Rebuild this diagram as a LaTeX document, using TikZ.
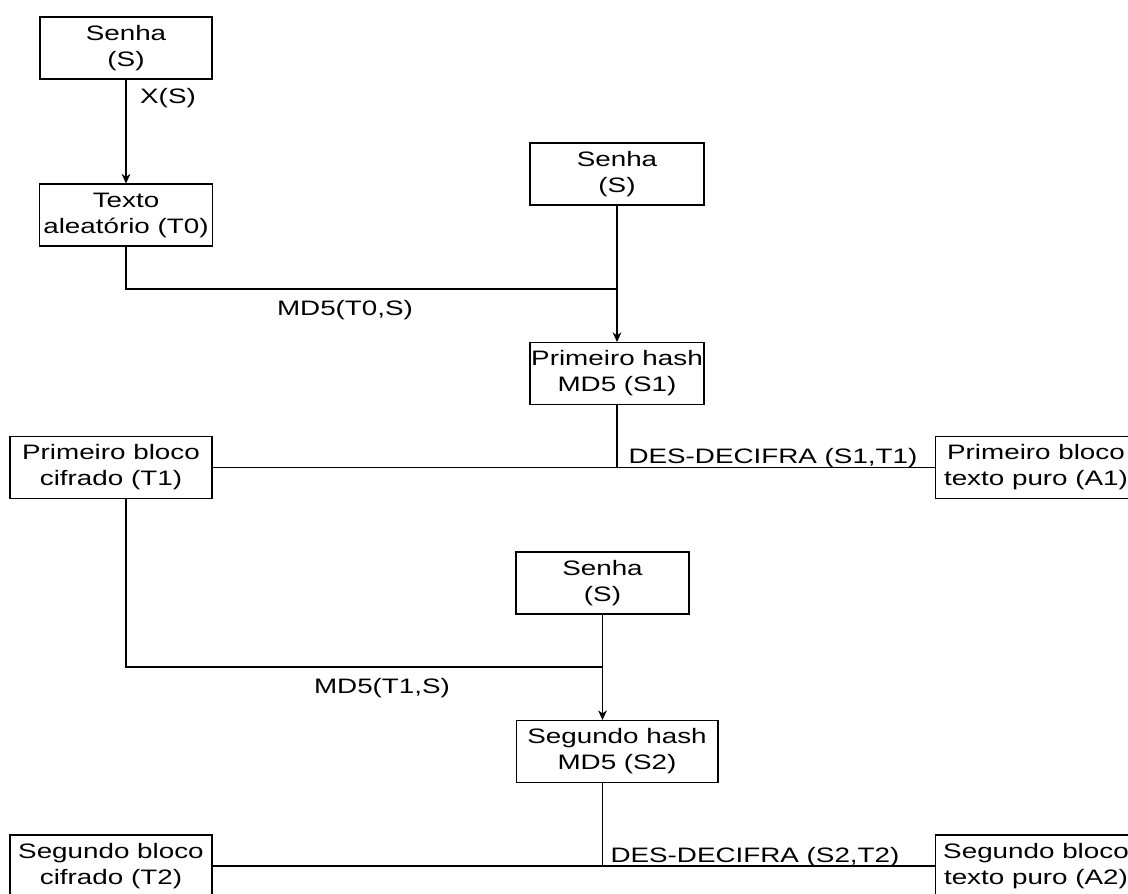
\documentclass[tikz,border=0pt]{standalone}
\usepackage{fontspec}
\setmainfont[FakeStretch=1.33]{Liberation Sans}
\usetikzlibrary{arrows.meta}
\begin{document}
\begin{tikzpicture}[
  x=0.02cm, y=-0.02cm,
  every node/.style={font=\fontsize{11.9}{14.8}\selectfont},
  caixa/.style={rectangle,draw,align=center,inner sep=0pt,minimum height=1.24cm},
  rotulo/.style={inner sep=0pt},
  line width=0.6pt, >={Stealth[length=5.5pt,width=5pt]}
]
  \path[use as bounding box,clip] (0,0) rectangle (1128,893);

  \node[caixa,minimum width=3.44cm] (s0) at (126,48)    {Senha\\(S)};
  \node[caixa,minimum width=3.46cm] (t0) at (126,215)   {Texto\\aleatório (T0)};
  \node[caixa,minimum width=3.48cm] (s1) at (617,174)   {Senha\\(S)};
  \node[caixa,minimum width=3.48cm] (h1) at (617,373.5) {Primeiro hash\\MD5 (S1)};
  \node[caixa,minimum width=4.04cm] (c1) at (111,467.5) {Primeiro bloco\\cifrado (T1)};
  \node[caixa,minimum width=4.04cm] (a1) at (1036,467.5) {Primeiro bloco\\texto puro (A1)};
  \node[caixa,minimum width=3.46cm] (s2) at (602.5,583) {Senha\\(S)};
  \node[caixa,minimum width=4.04cm] (h2) at (617,751.5) {Segundo hash\\MD5 (S2)};
  \node[caixa,minimum width=4.04cm] (c2) at (111,866)   {Segundo bloco\\cifrado (T2)};
  \node[caixa,minimum width=4.04cm] (a2) at (1036,866)  {Segundo bloco\\texto puro (A2)};

  \coordinate (j1) at (617,289);
  \coordinate (j2) at (603,667);

  % primeira rodada
  \draw[->] (s0) -- (t0);
  \draw (t0.south) |- (j1);
  \draw[->] (s1) -- (h1);
  \draw (h1) -- (h1 |- c1);
  \draw (c1) -- (a1);

  % segunda rodada
  \draw (c1.south -| t0.south) |- (j2);
  \draw[->] (s2.south) -- (s2.south |- h2.north);
  \draw (s2.south |- h2.south) -- (s2.south |- c2);
  \draw (c2) -- (a2);

  \node[rotulo] (lx)  at (168,98)  {X(S)};
  \node[rotulo] (lm0) at (345,310) {MD5(T0,S)};
  \node[rotulo,anchor=base west] (ld1) at (628,463) {DES-DECIFRA (S1,T1)};
  \node[rotulo] (lm1) at (382,688) {MD5(T1,S)};
  \node[rotulo,anchor=base west] (ld2) at (610,862) {DES-DECIFRA (S2,T2)};
\end{tikzpicture}
\end{document}
